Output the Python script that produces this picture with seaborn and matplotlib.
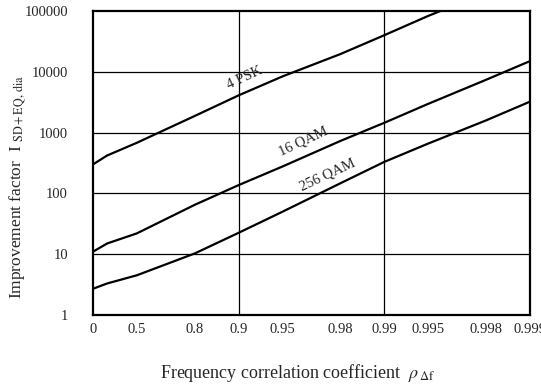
import numpy as np
import pandas as pd
import matplotlib
matplotlib.use("Agg")
import matplotlib.pyplot as plt
import seaborn as sns

# ---- data ----
rho = [0.0, 0.2, 0.5, 0.8, 0.9, 0.95, 0.98, 0.99, 0.995, 0.998, 0.999]
psk4 = [300, 420, 680, 1880, 4100, 8400, 19600, 40000, 83000, 200000, 400000]
qam16 = [11, 15, 22, 65, 137, 277, 730, 1450, 2970, 7400, 15000]
qam256 = [2.7, 3.3, 4.5, 10.3, 22.5, 50, 147, 330, 660, 1590, 3230]
tick_vals = [0, 0.5, 0.8, 0.9, 0.95, 0.98, 0.99, 0.995, 0.998, 0.999]
tick_labels = ["0", "0.5", "0.8", "0.9", "0.95", "0.98", "0.99", "0.995", "0.998", "0.999"]
y_ticks = [1, 10, 100, 1000, 10000, 100000]
y_labels = ["1", "10", "100", "1000", "10000", "100000"]
labels = ["4 PSK", "16 QAM", "256 QAM"]
label_pos = [(0.9095, 7900), (0.9638, 720), (0.9756, 205)]

df = pd.concat([
    pd.DataFrame({"rho": rho, "I": psk4, "mod": "4 PSK"}),
    pd.DataFrame({"rho": rho, "I": qam16, "mod": "16 QAM"}),
    pd.DataFrame({"rho": rho, "I": qam256, "mod": "256 QAM"}),
])

sns.set_style("white")
plt.rcParams["font.family"] = ["Liberation Serif", "DejaVu Serif"]
plt.rcParams["mathtext.fontset"] = "stix"

fig = plt.figure(figsize=(5.41, 3.85), dpi=100)
ax = fig.add_axes([93 / 541, 1 - 315 / 385, (530 - 93) / 541, (315 - 11) / 385])


def fwd(x):
    x = np.asarray(x, dtype=float)
    return -np.log10(np.clip(1 - x, 1e-12, None))


def inv(y):
    y = np.asarray(y, dtype=float)
    return 1 - 10 ** (-y)


ax.set_xscale("function", functions=(fwd, inv))
ax.set_yscale("log")

sns.lineplot(data=df, x="rho", y="I", hue="mod",
             palette={"4 PSK": "black", "16 QAM": "black", "256 QAM": "black"},
             legend=False, ax=ax, linewidth=1.6)

ax.set_xlabel("")
ax.set_ylabel("")
ax.set_xlim(0, 0.999)
ax.set_ylim(1, 100000)
ax.set_xticks(tick_vals)
ax.set_xticklabels(tick_labels, fontsize=10.5)
ax.set_yticks(y_ticks)
ax.set_yticklabels(y_labels, fontsize=10.5)
ax.minorticks_off()
ax.tick_params(axis="x", direction="in", length=4, width=1, pad=6, color="black")
ax.tick_params(axis="y", length=0, pad=18)

for yv in y_ticks[1:-1]:
    ax.axhline(yv, color="black", lw=0.9, zorder=0)
for xv in [0.9, 0.99]:
    ax.axvline(xv, color="black", lw=0.9, zorder=0)

for s in ax.spines.values():
    s.set_color("black")
    s.set_linewidth(1.6)

for lab, (xx, yy) in zip(labels, label_pos):
    ax.text(xx, yy, lab, rotation=25, ha="center", va="center", fontsize=10.5)

fig.text(0.5 * (165 + 430) / 541, 1 - 373 / 385,
         r"Frequency correlation coefficient  $\rho_{\,\Delta\mathrm{f}}$",
         fontsize=13, ha="center", va="center")
fig.text(18 / 541, 1 - 187 / 385,
         r"Improvement factor  I $_{\mathrm{SD+EQ,\,dia}}$",
         fontsize=12.5, ha="center", va="center", rotation=90)

fig.savefig("out.png", dpi=100)
